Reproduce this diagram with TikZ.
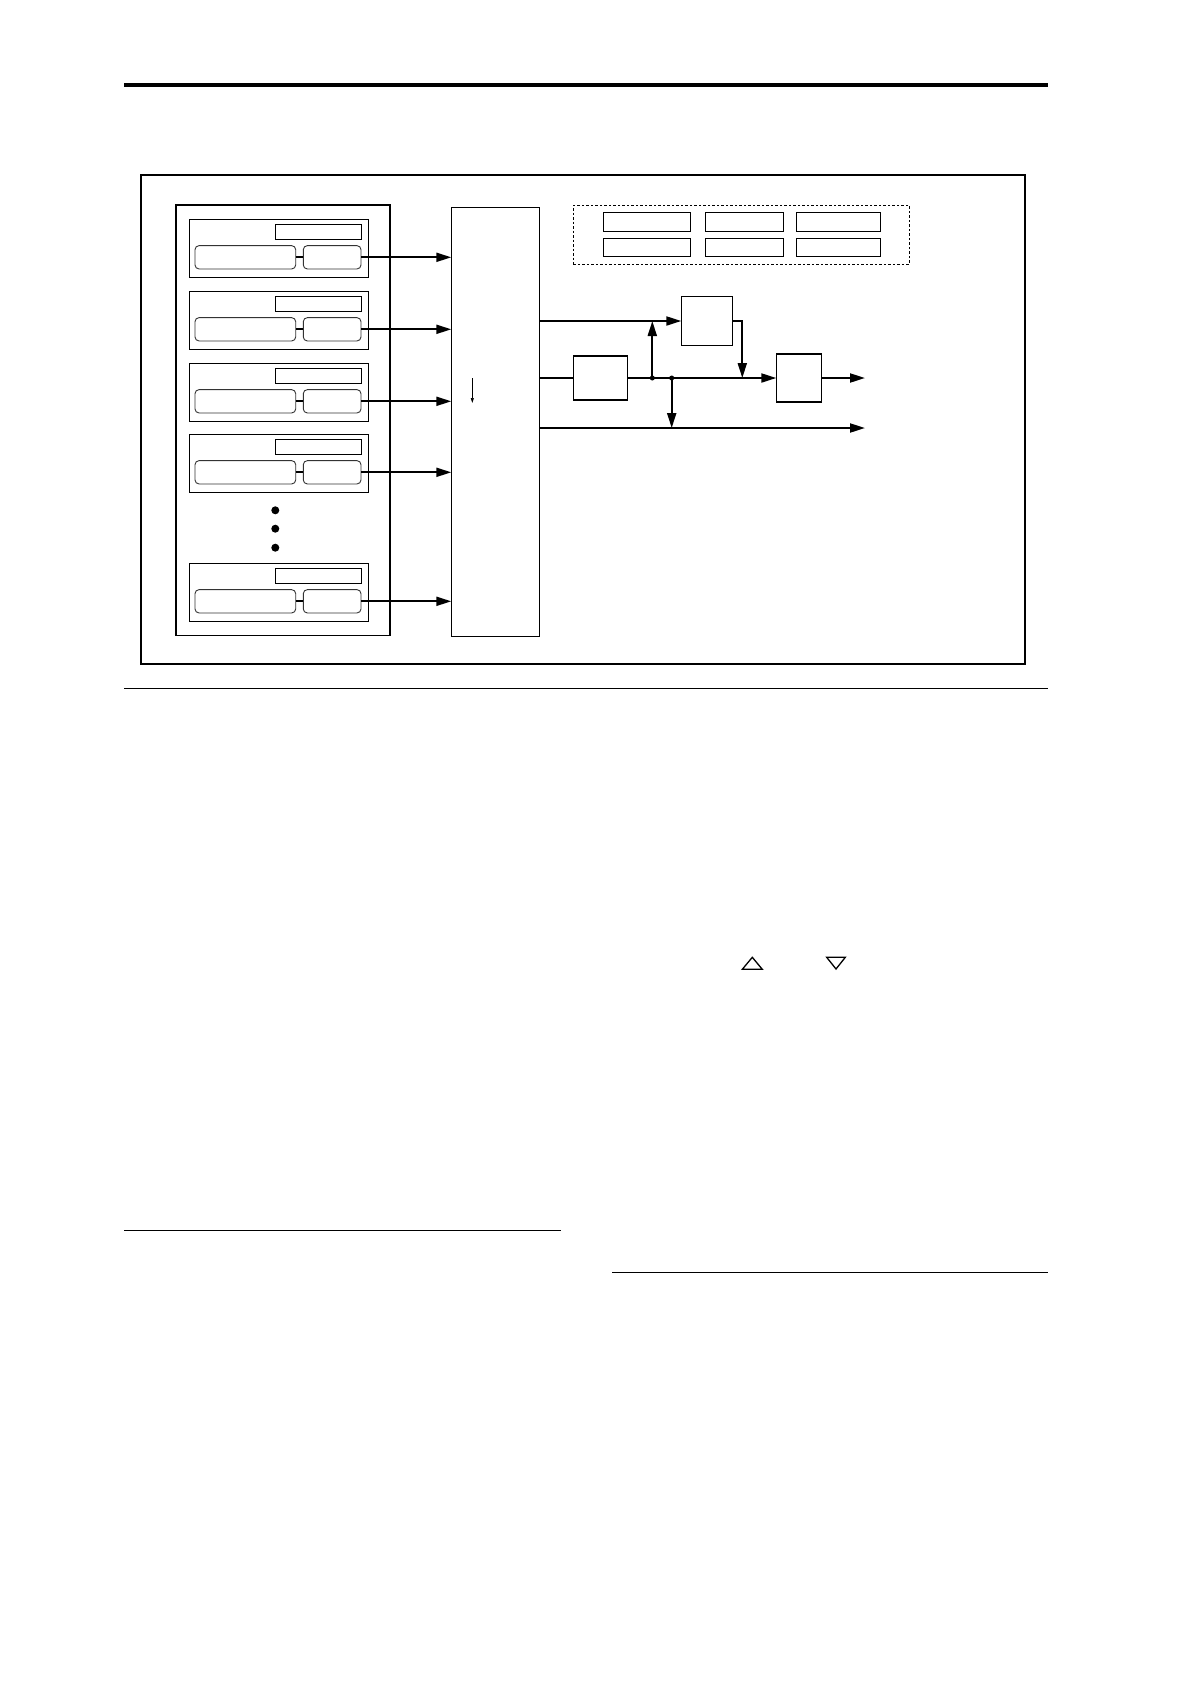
\documentclass[tikz,border=0pt]{standalone}
\usetikzlibrary{arrows.meta,calc}
\begin{document}
\begin{tikzpicture}[x=1pt,y=-1pt,
  box/.style={draw,line width=1.1pt,inner sep=0pt,outer sep=0pt},
  rbox/.style={draw=black!80,line width=0.9pt,rounded corners=4pt,inner sep=0pt,outer sep=0pt},
  fxbox/.style={draw,line width=1.1pt,inner sep=0pt,outer sep=0pt},
  sig/.style={line width=2pt,-{Triangle[length=15pt,width=9pt]}},
  thinsig/.style={line width=0.7pt,-{Triangle[length=5pt,width=3pt]}},
  wire/.style={line width=2pt},
  jdot/.style={circle,fill,inner sep=0pt,minimum size=5pt},
  edot/.style={circle,fill,inner sep=0pt,minimum size=8pt},
  pagerule/.style={line width=1.2pt},
  tri/.style={line width=1.3pt,line join=miter}]
\useasboundingbox (0,0) rectangle (1190,1684);
\fill[white] (0,0) rectangle (1190,1684);

% page rules
\draw[line width=3.7pt] (124,85) -- (1048,85);
\draw[pagerule] (124,688.5) -- (1048,688.5);
\draw[pagerule] (124,1230.5) -- (561,1230.5);
\draw[pagerule] (612.3,1272.5) -- (1048,1272.5);

% frame
\node[box,minimum width=884,minimum height=489] (frame) at (583,419.5) {};
\draw[line width=1.8pt] (frame.south west) -- (frame.south east);

% left panel and mixer
\node[box,minimum width=214,minimum height=430.5] (panel) at (283,420.25) {};
\node[box,minimum width=88.4,minimum height=429] (mixer) at (495.5,421.8) {};

% voice boxes
\foreach \i/\t in {1/219.3,2/291.3,3/363.3,4/434.3,5/563.3}{
  \node[box,minimum width=179.4,minimum height=58] (v\i) at (279,\t+29) {};
  \node[box,minimum width=86.4,minimum height=15] (l\i) at (318.5,\t+12.5) {};
  \node[rbox,minimum width=100.7,minimum height=23.3] (a\i) at (245.35,\t+38) {};
  \node[rbox,minimum width=57.7,minimum height=23.3] (b\i) at (332.15,\t+38) {};
  \draw[wire] (a\i.east) -- (b\i.west);
  \draw[sig] (b\i.east) -- (b\i.east -| mixer.west);
}

% ellipsis dots
\node[edot] (e1) at (275.3,510.3) {};
\node[edot] (e2) at (275.3,528.7) {};
\node[edot] (e3) at (275.3,547.7) {};

% small arrow inside mixer
\coordinate (sa) at (472.3,378);
\coordinate (sb) at (472.3,403);
\draw[thinsig] (sa) -- (sb);

% effect slots (dashed group)
\node[draw,line width=1pt,dash pattern=on 2.5pt off 2pt,inner sep=0pt,minimum width=336,minimum height=58.7] (fx) at (741.3,234.65) {};
\foreach \c/\cx/\w in {1/647/87.4,2/744.5/78.4,3/838.5/84.4}{
  \node[fxbox,minimum width=\w,minimum height=19] (r1\c) at (\cx,221.8) {};
  \node[fxbox,minimum width=\w,minimum height=18] (r2\c) at (\cx,247.3) {};
}

% right-side blocks
\node[box,minimum width=51,minimum height=49] (X) at (706.8,321) {};
\node[box,minimum width=54.4,minimum height=44] (Y) at (600.5,378) {};
\node[box,minimum width=45.4,minimum height=48] (Z) at (799,378) {};

\coordinate (o2) at (865,378);
\coordinate (o3) at (865,428);
\coordinate (xc) at (742.3,321);

\draw[sig] (mixer.east |- X.west) -- (X.west);
\draw[wire] (mixer.east |- Y.west) -- (Y.west);
\draw[sig] (Y.east) -- (Z.west);
\draw[sig] (mixer.east |- o3) -- (o3);
\draw[sig] (Z.east) -- (o2);

\node[jdot] (j1) at (652.3,378) {};
\node[jdot] (j2) at (671.7,378) {};
\draw[sig] (j1.center) -- (j1 |- X.west);
\draw[sig] (j2.center) -- (j2 |- o3);
\draw[sig] (X.east) -- (xc) -- (xc |- Z.west);

% triangles
\draw[tri] (742.3,969.3) -- (762.3,969.3) -- (752.3,957.3) -- cycle;
\draw[tri] (826.7,957.3) -- (845.3,957.3) -- (836,969) -- cycle;
\end{tikzpicture}
\end{document}
